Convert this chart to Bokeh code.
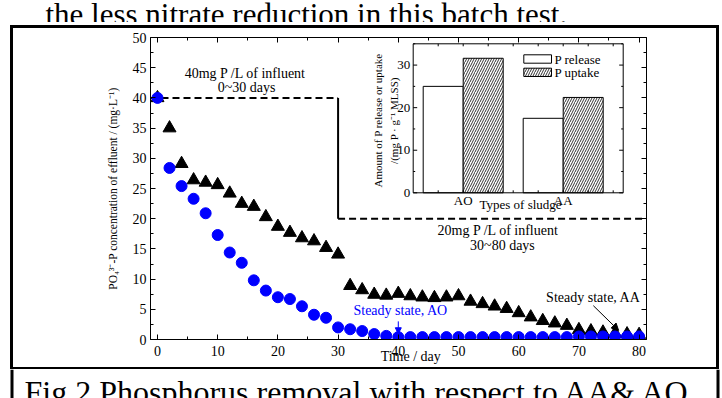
from bokeh.plotting import figure
from bokeh.models import (Range1d, LinearAxis, SingleIntervalTicker, CustomJSTickFormatter,
                          Arrow, NormalHead)
from bokeh.layouts import column
from bokeh.embed import file_html
from bokeh.resources import INLINE
from bokeh.core.properties import value

# ---------------- data ----------------
days = [0, 2, 4, 6, 8, 10, 12, 14, 16, 18, 20, 22, 24, 26, 28, 30, 32, 34, 36, 38, 40,
        42, 44, 46, 48, 50, 52, 54, 56, 58, 60, 62, 64, 66, 68, 70, 72, 74, 76, 78, 80]
ao_effluent = [40.0, 28.4, 25.4, 23.3, 20.9, 17.3, 14.4, 12.7, 9.8, 8.1, 7.0, 6.7, 5.5, 4.1, 3.6,
               2.0, 1.7, 1.4, 0.9, 0.6, 0.4,
               0.4, 0.4, 0.4, 0.4, 0.4, 0.4, 0.4, 0.4, 0.4, 0.4, 0.4, 0.4, 0.4, 0.4,
               0.5, 0.5, 0.5, 0.5, 0.5, 0.5]
aa_effluent = [40.0, 35.0, 29.1, 26.4, 26.0, 25.6, 24.2, 22.5, 22.0, 20.3, 18.7, 17.7, 16.8, 16.3, 15.2,
               14.1, 8.9, 8.2, 7.45, 7.3, 7.6, 7.2, 7.0, 6.9, 7.0, 7.2, 6.3, 5.9, 5.5, 5.1, 4.4,
               3.7, 3.1, 2.7, 2.3, 1.6, 1.4, 1.2, 1.0, 0.9, 0.8]
influent_days = [0, 30, 30, 80]
influent_conc = [40, 40, 20, 20]

sludge_types = ["AO", "AA"]
p_release = [25.0, 17.5]
p_uptake = [31.6, 22.4]

inset_y_ticks = [0, 10, 20, 30]
inset_y_minor = [0, 5, 10, 15, 20, 25, 30, 35]
inset_x_minor = [0.75, 1.0, 1.25, 1.5, 1.75, 2.0, 2.25, 2.5]

body_text = "the less nitrate reduction in this batch test."
caption = "Fig.2 Phosphorus removal with respect to AA& AO"

FONT = "Liberation Serif"

# ---------------- layout (page pixels) ----------------
W, H = 722, 398
TOP_H = 22                      # strip with the cropped body text
CAP_Y = 369                     # caption cell starts here
PH = CAP_Y - TOP_H              # main figure height
FL, FR, FT, FB = 150, 646, 37, 339
XMIN, XMAX = -1.16, 81.23
YMIN, YMAX = 0, 50
BOX_L, BOX_R, BOX_T, SEP_Y, LINE = 10, 719, 25, 367, 3


def strip(w, h):
    f = figure(width=w, height=h, x_range=Range1d(0, w), y_range=Range1d(h, 0),
               output_backend="svg", toolbar_location=None, tools="", min_border=0,
               x_axis_type=None, y_axis_type=None)
    f.outline_line_color = None
    f.background_fill_color = "white"
    f.border_fill_color = "white"
    return f


# page-box lines around the main figure (css background of the figure element)
bw = BOX_R - BOX_L
vh = PH - (BOX_T - TOP_H)
box_styles = {
    "background-image": ", ".join(["linear-gradient(#000, #000)"] * 4),
    "background-repeat": "no-repeat",
    "background-size": f"{LINE}px {vh}px, {LINE}px {vh}px, {bw}px {LINE}px, {bw}px {LINE}px",
    "background-position": (f"{BOX_L}px {BOX_T - TOP_H}px, {BOX_R - LINE}px {BOX_T - TOP_H}px, "
                            f"{BOX_L}px {BOX_T - TOP_H}px, {BOX_L}px {SEP_Y - TOP_H}px"),
}

p = figure(width=W, height=PH, x_range=Range1d(XMIN, XMAX), y_range=Range1d(YMIN, YMAX),
           output_backend="svg", toolbar_location=None, tools="",
           min_border_left=FL, min_border_right=W - FR, min_border_top=FT - TOP_H,
           min_border_bottom=CAP_Y - FB, styles=box_styles)
p.grid.visible = False
p.outline_line_color = None
p.background_fill_color = "white"
p.border_fill_color = None


def style_axis(ax, labels=True):
    ax.major_tick_in = 5
    ax.major_tick_out = 0
    ax.minor_tick_in = 3
    ax.minor_tick_out = 0
    ax.axis_line_color = "black"
    ax.major_tick_line_color = "black"
    ax.minor_tick_line_color = "black"
    ax.major_label_text_font = FONT
    ax.major_label_text_font_size = "14px"
    ax.major_label_text_color = "black"
    if not labels:
        ax.formatter = CustomJSTickFormatter(code="return ''")
        ax.major_label_standoff = 0
        ax.major_label_text_font_size = "0px"


p.xaxis.ticker = SingleIntervalTicker(interval=10, num_minor_ticks=2)
p.yaxis.ticker = SingleIntervalTicker(interval=5, num_minor_ticks=2)
style_axis(p.xaxis[0])
style_axis(p.yaxis[0])
p.xaxis.major_label_standoff = 6
p.yaxis.major_label_standoff = 4
p.xaxis.axis_label = "\u00a0" * 7 + "Time / day"
p.xaxis.axis_label_text_font = FONT
p.xaxis.axis_label_text_font_style = "normal"
p.xaxis.axis_label_text_font_size = "14px"
p.xaxis.axis_label_standoff = -10
p.xaxis.axis_label_text_color = "black"
p.yaxis.axis_label = "PO\u2084\u00b3\u207b-P concentration of effluent / (mg\u00b7L\u207b\u00b9)"
p.yaxis.axis_label_text_font = FONT
p.yaxis.axis_label_text_font_style = "normal"
p.yaxis.axis_label_text_font_size = "11.5px"
p.yaxis.axis_label_standoff = 11
p.yaxis.axis_label_text_color = "black"

top_ax = LinearAxis(ticker=SingleIntervalTicker(interval=10, num_minor_ticks=2))
style_axis(top_ax, labels=False)
p.add_layout(top_ax, "above")
right_ax = LinearAxis(ticker=SingleIntervalTicker(interval=5, num_minor_ticks=2))
style_axis(right_ax, labels=False)
p.add_layout(right_ax, "right")

# influent step line
p.segment(x0=[XMIN, influent_days[2]], x1=[influent_days[1], XMAX],
          y0=[influent_conc[0], influent_conc[2]], y1=[influent_conc[1], influent_conc[3]],
          line_color="black", line_width=2, line_dash="7 4")
p.segment(x0=[influent_days[1]], x1=[influent_days[2]], y0=[influent_conc[1]], y1=[influent_conc[2]],
          line_color="black", line_width=2)

# series
p.scatter(days, aa_effluent, marker="triangle", size=13, fill_color="black", line_color="black")
p.scatter(days, ao_effluent, marker="circle", size=11, fill_color="#0000ff", line_color="#0000ff")

# main annotations
txt_kw = dict(text_font=value(FONT), text_font_size="14px", text_align="center", text_baseline="middle")
p.text(x=[14.6, 14.8, 56.6, 57.3, 72.4], y=[44.1, 41.8, 18.05, 15.56, 6.95],
       text=["40mg P /L of influent", "0~30 days", "20mg P /L of influent", "30~80 days",
             "Steady state, AA"], text_color="black", **txt_kw)
p.text(x=[40.4], y=[4.8], text=["Steady state, AO"], text_color="#0000ff", **txt_kw)
p.add_layout(Arrow(end=NormalHead(size=7, fill_color="black", line_color="black"),
                   x_start=72.4, y_start=5.6, x_end=76.6, y_end=1.5, line_color="black", line_width=1))
p.add_layout(Arrow(end=NormalHead(size=6, fill_color="#0000ff", line_color="#0000ff"),
                   x_start=40.0, y_start=3.0, x_end=40.0, y_end=0.95, line_color="#0000ff", line_width=1))

# ---------------- inset ----------------
IL, IR, IT, IB = 412.7, 622.7, 43.3, 192.3
IX0, IX1, IY0, IY1 = 0.5, 2.6, 0, 35
SXI = (IR - IL) / (IX1 - IX0)
SYI = (IB - IT) / (IY1 - IY0)
p.extra_x_ranges = {"ix": Range1d(IX0 - (IL - FL) / SXI, IX1 + (FR - IR) / SXI)}
p.extra_y_ranges = {"iy": Range1d(IY0 - (FB - IB) / SYI, IY1 + (IT - FT) / SYI)}
ik = dict(x_range_name="ix", y_range_name="iy")


def ix(px):
    return IX0 + (px - IL) / SXI


def iy(py):
    return IY0 + (IB - py) / SYI


p.quad(left=[IX0], right=[IX1], bottom=[IY0], top=[IY1], fill_color="white", line_color=None, **ik)
pos = [i + 1 for i in range(len(sludge_types))]
BW = 0.4
p.vbar(x=[v - BW / 2 for v in pos], top=p_release, bottom=0, width=BW,
       fill_color="white", line_color="black", line_width=1, **ik)
p.vbar(x=[v + BW / 2 for v in pos], top=p_uptake, bottom=0, width=BW,
       fill_color="white", line_color="black", line_width=1,
       hatch_pattern="/", hatch_color="black", hatch_scale=5, hatch_weight=0.8, **ik)
p.quad(left=[IX0], right=[IX1], bottom=[IY0], top=[IY1], fill_color=None, line_color="black",
       line_width=1, **ik)

ylen = [(4 if t % 10 == 0 else 2) / SXI for t in inset_y_minor]
p.segment(x0=[IX0] * len(inset_y_minor), x1=[IX0 + l for l in ylen], y0=inset_y_minor, y1=inset_y_minor,
          line_color="black", line_width=1, **ik)
p.segment(x0=[IX1] * len(inset_y_minor), x1=[IX1 - l for l in ylen], y0=inset_y_minor, y1=inset_y_minor,
          line_color="black", line_width=1, **ik)
xl = 2.5 / SYI
p.segment(x0=inset_x_minor, x1=inset_x_minor, y0=[IY1] * len(inset_x_minor),
          y1=[IY1 - xl] * len(inset_x_minor), line_color="black", line_width=1, **ik)
p.segment(x0=inset_x_minor, x1=inset_x_minor, y0=[IY0] * len(inset_x_minor),
          y1=[IY0 + xl] * len(inset_x_minor), line_color="black", line_width=1, **ik)

ifont = dict(text_font=value(FONT), text_color="black")
p.text(x=[IX0 - 3 / SXI] * len(inset_y_ticks), y=inset_y_ticks, text=[str(t) for t in inset_y_ticks],
       text_font_size="13px", text_align="right", text_baseline="middle", **ifont, **ik)
p.text(x=pos, y=[iy(200)] * len(pos), text=sludge_types, text_font_size="13px",
       text_align="center", text_baseline="middle", **ifont, **ik)
p.text(x=[ix(520)], y=[iy(204)], text=["Types of sludge"], text_font_size="13px",
       text_align="center", text_baseline="middle", **ifont, **ik)
p.text(x=[ix(377.3), ix(393.3)], y=[iy(120)] * 2,
       text=["Amount of P release or uptake", "/(mg P \u00b7 g\u207b\u00b9 MLSS)"],
       angle=1.5707963, text_font_size="11px", text_align="center", text_baseline="middle",
       **ifont, **ik)

p.quad(left=[ix(523.3)], right=[ix(551)], bottom=[iy(62.7)], top=[iy(54.3)],
       fill_color="white", line_color="black", line_width=1, **ik)
p.quad(left=[ix(523.3)], right=[ix(551)], bottom=[iy(76)], top=[iy(67.7)],
       fill_color="white", line_color="black", line_width=1,
       hatch_pattern="/", hatch_color="black", hatch_scale=5, hatch_weight=0.8, **ik)
p.text(x=[ix(554)] * 2, y=[iy(58.5), iy(71.8)], text=["P release", "P uptake"],
       text_font_size="13px", text_align="left", text_baseline="middle", **ifont, **ik)

# ---------------- cropped body text above & caption cell below ----------------
top_fig = strip(W, TOP_H)
top_fig.text(x=[45], y=[14], text=[body_text], text_font=value(FONT), text_font_size="31px",
             text_align="left", text_baseline="alphabetic", text_color="black")

CAP_H = H - CAP_Y
cap = strip(W, CAP_H)
cap.segment(x0=[BOX_L + LINE / 2, BOX_R - LINE / 2], x1=[BOX_L + LINE / 2, BOX_R - LINE / 2],
            y0=[0, 0], y1=[CAP_H, CAP_H], line_color="black", line_width=LINE)
cap.text(x=[24], y=[391.5 - CAP_Y], text=[caption], text_font=value(FONT), text_font_size="32px",
         text_align="left", text_baseline="alphabetic", text_color="black")

# keep each strip's frame independent of the main plot's frame in the column
for f in (top_fig, p, cap):
    try:
        f.frame_align = False
    except Exception:
        pass

layout = column(top_fig, p, cap)
open("out.html", "w").write(file_html(layout, INLINE))
